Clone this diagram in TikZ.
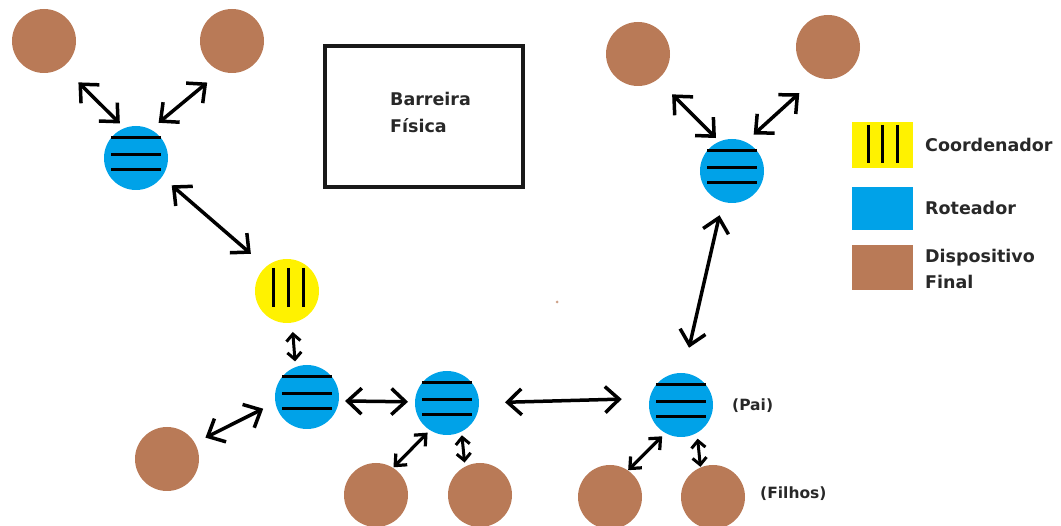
\documentclass[tikz,border=0pt]{standalone}
\usepackage{fontspec}
\setmainfont{DejaVu Sans}
\usetikzlibrary{arrows.meta}
\definecolor{devbrown}{RGB}{185,122,87}
\definecolor{rtblue}{RGB}{0,162,232}
\definecolor{coyellow}{RGB}{255,242,0}
\definecolor{labelgray}{RGB}{40,40,40}

% three horizontal bars of a router
\newcommand{\routerbars}[1]{%
  \foreach \yy in {-20,-3,12}
    \draw[bar] ([shift={(-25,\yy)}]#1.center) -- ++(50,0);}

\begin{document}
\begin{tikzpicture}[x=1pt,y=-1pt,
  dev/.style={circle,fill=devbrown,minimum size=64pt,inner sep=0pt,outer sep=0pt},
  rt/.style={circle,fill=rtblue,minimum size=64pt,inner sep=0pt,outer sep=0pt},
  co/.style={circle,fill=coyellow,minimum size=64pt,inner sep=0pt,outer sep=0pt},
  swatch/.style={rectangle,minimum width=61pt,inner sep=0pt,outer sep=0pt},
  bar/.style={line width=3pt,black},
  link/.style={line width=3.5pt,black,
    {Straight Barb[length=14pt,width=26pt]}-{Straight Barb[length=14pt,width=26pt]}},
  midlink/.style={line width=3.2pt,black,
    {Straight Barb[length=9pt,width=16pt]}-{Straight Barb[length=9pt,width=16pt]}},
  shortlink/.style={line width=3pt,black,
    {Straight Barb[length=7pt,width=14pt]}-{Straight Barb[length=7pt,width=14pt]}},
  lbl/.style={font=\bfseries\fontsize{17.5}{20}\selectfont,text=labelgray,
    inner sep=0pt,anchor=base west},
  small/.style={font=\bfseries\fontsize{15.5}{18}\selectfont,text=labelgray,
    inner sep=0pt,anchor=base west}]

\useasboundingbox (0,0) rectangle (1061,526);

% physical barrier
\draw[line width=4pt,black!90] (325,46) rectangle (523,187);
\node[lbl] (bar1) at (390,106) {Barreira};
\node[lbl] (bar2) at (390,133) {Física};

% end devices
\node[dev] (d1) at (44,41) {};
\node[dev] (d2) at (232,41) {};
\node[dev] (d3) at (638,54) {};
\node[dev] (d4) at (828,47) {};
\node[dev] (d5) at (167,459) {};
\node[dev] (d6) at (376,495) {};
\node[dev] (d7) at (480,495) {};
\node[dev] (d8) at (610,497) {};
\node[dev] (d9) at (713,497) {};

% routers
\node[rt] (r1) at (136,158) {};
\node[rt] (r2) at (732,171) {};
\node[rt] (r3) at (307,397) {};
\node[rt] (r4) at (447,403) {};
\node[rt] (r5) at (681,405) {};
\routerbars{r1}
\routerbars{r2}
\routerbars{r3}
\routerbars{r4}
\routerbars{r5}

% coordinator
\node[co] (c) at (287,291) {};
\foreach \xx in {-14,1,16}
  \draw[bar] ([shift={(\xx,-23)}]c.center) -- ++(0,39);

% links
\draw[link,shorten <=22pt,shorten >=6.6pt] (d1.-54.8) -- (r1.111);
\draw[link,shorten <=18pt,shorten >=10.5pt] (d2.-110) -- (r1.63.4);
\draw[link,shorten <=13pt,shorten >=20pt] (r1.-36.9) -- (c.131.9);
\draw[shortlink,shorten <=9.4pt,shorten >=5.7pt] (c.-81.7) -- (r3.111.8);
\draw[link,shorten <=6.3pt,shorten >=7pt] (r3.-7.5) -- (r4.178.5);
\draw[link,shorten <=26pt,shorten >=28pt] (r4.0) -- (r5.168.5);
\draw[link,shorten <=13.7pt,shorten >=12pt] (r3.-170) -- (d5.30);
\draw[midlink,shorten <=3.5pt,shorten >=0.8pt] (r4.-122.3) -- (d6.58.7);
\draw[shortlink,shorten <=3.8pt,shorten >=4.2pt] (r4.-63.4) -- (d7.118);
\draw[midlink,shorten <=4.7pt,shorten >=0.4pt] (r5.-119.4) -- (d8.56.3);
\draw[shortlink,shorten <=6pt,shorten >=0.7pt] (r5.-60) -- (d9.113.4);
\draw[link,shorten <=14pt,shorten >=26pt] (r2.-107.6) -- (r5.86);
\draw[link,shorten <=21pt,shorten >=5pt] (d3.-53.3) -- (r2.113.8);
\draw[link,shorten <=24pt,shorten >=11pt] (d4.-110.7) -- (r2.65.2);

% labels
\node[small] (pai) at (732,411) {(Pai)};
\node[small] (filhos) at (760,499) {(Filhos)};

% legend
\node[swatch,fill=coyellow,minimum height=46pt] (lc) at (882.5,145) {};
\foreach \xx in {-14.5,-0.5,14.5}
  \draw[bar] ([shift={(\xx,-20)}]lc.center) -- ++(0,38);
\node[lbl] (lct) at (925,152) {Coordenador};
\node[swatch,fill=rtblue,minimum height=43pt] (lr) at (882.5,208.5) {};
\node[lbl] (lrt) at (925,215) {Roteador};
\node[swatch,fill=devbrown,minimum height=45pt] (ld) at (882.5,267.5) {};
\node[lbl] (ldt1) at (925,263) {Dispositivo};
\node[lbl] (ldt2) at (925,289) {Final};

% stray speck
\fill[devbrown!70] (557,302) circle (1.5);
\end{tikzpicture}
\end{document}
